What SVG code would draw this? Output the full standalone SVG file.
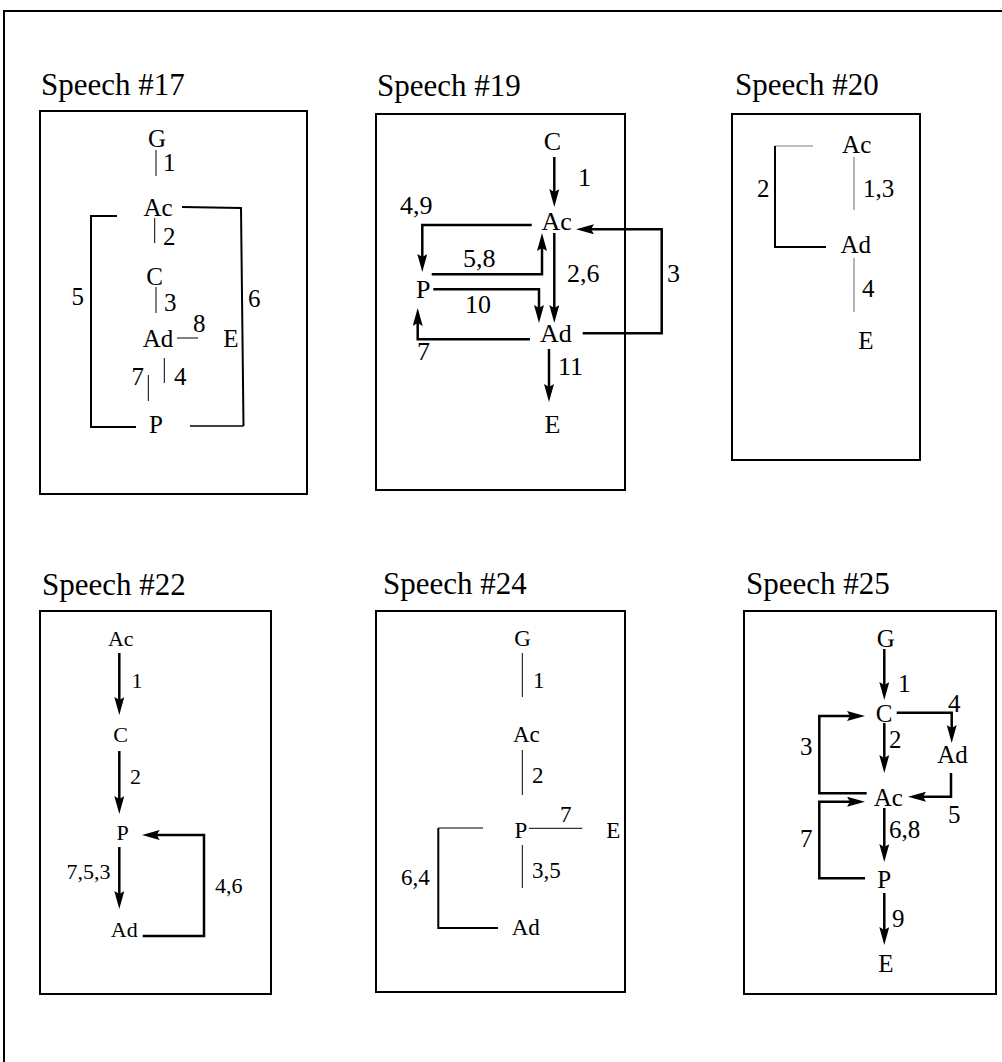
<svg xmlns="http://www.w3.org/2000/svg" width="1002" height="1062" viewBox="0 0 1002 1062">
<style>
text{font-family:"Liberation Serif","Times New Roman",serif;fill:#000}
.title{font-size:31px}
.box{fill:none;stroke:#000;stroke-width:2}
.thin{fill:none;stroke:#000;stroke-width:1}
.gray{fill:none;stroke:#808080;stroke-width:1.2}
.br{fill:none;stroke:#000;stroke-width:2}
.ar{fill:none;stroke:#000;stroke-width:2.5;marker-end:url(#ah)}
.n{text-anchor:middle}
</style>
<defs>
<marker id="ah" viewBox="0 0 18 10" refX="8" refY="5" markerWidth="18" markerHeight="10" markerUnits="userSpaceOnUse" orient="auto">
<path d="M0,0 L18,5 L0,10 L3,5 z" fill="#000"/>
</marker>
</defs>
<rect width="1002" height="1062" fill="#fff"/>
<path d="M4,1062 L4,11 L1002,11" fill="none" stroke="#000" stroke-width="2"/>

<!-- Panel 1 -->
<g id="speech17">
<rect class="box" x="40" y="111" width="267" height="383"/>
<text class="title" x="41" y="95">Speech #17</text>
<g font-size="25">
<g id="s17-G"><text class="n" x="157" y="147">G</text></g>
<g id="s17-Ac"><text class="n" x="158" y="216">Ac</text></g>
<g id="s17-C"><text class="n" x="154.5" y="285">C</text></g>
<g id="s17-Ad"><text class="n" x="158" y="347">Ad</text></g>
<g id="s17-E"><text class="n" x="231" y="347">E</text></g>
<g id="s17-P"><text class="n" x="156" y="433">P</text></g>
</g>
<g id="s17-connectors">
<line class="thin" x1="156" y1="150" x2="156" y2="176"/>
<line class="thin" x1="154.7" y1="218" x2="154.7" y2="243"/>
<line class="thin" x1="156" y1="287" x2="156" y2="313"/>
<line class="thin" x1="177" y1="338" x2="198" y2="338"/>
<line class="thin" x1="164.3" y1="358" x2="164.3" y2="383"/>
<line class="thin" x1="148.3" y1="375" x2="148.3" y2="401"/>
<path class="br" d="M117,216 L91,216 L91,427 L136,427"/>
<path class="br" d="M182,207 L241,208 L243.5,426"/>
<line x1="243.5" y1="426" x2="190" y2="426" stroke="#000" stroke-width="1.3"/>
</g>
<g font-size="25">
<text x="163" y="171">1</text>
<text x="163" y="245">2</text>
<text x="164" y="311">3</text>
<text x="193" y="332">8</text>
<text x="174" y="385">4</text>
<text x="131.5" y="385">7</text>
<text x="71.5" y="305">5</text>
<text x="248" y="307">6</text>
</g>
</g>

<!-- Panel 2 -->
<g id="speech19">
<rect class="box" x="376" y="114" width="249" height="376"/>
<text class="title" x="377" y="96">Speech #19</text>
<g font-size="26">
<g id="s19-C"><text class="n" x="552.5" y="150">C</text></g>
<g id="s19-Ac"><text class="n" x="556.7" y="230">Ac</text></g>
<g id="s19-P"><text class="n" x="423.3" y="298">P</text></g>
<g id="s19-Ad"><text class="n" x="555.8" y="342">Ad</text></g>
<g id="s19-E"><text class="n" x="552.5" y="433">E</text></g>
</g>
<g id="s19-connectors">
<path class="ar" d="M554.3,157 L554.3,197"/>
<path class="ar" d="M531.7,225 L422.3,225 L422.3,262"/>
<path class="ar" d="M431.7,274.3 L542,274.3 L542,243"/>
<path class="ar" d="M433.3,289.3 L539,289.3 L539,313"/>
<path class="ar" d="M554.3,233 L554.3,313"/>
<path class="ar" d="M582.7,333.3 L661.7,333.3 L661.7,229.3 L586,229.3"/>
<path class="ar" d="M530,339.3 L417.7,339.3 L417.7,318"/>
<path class="ar" d="M549,349 L549,392"/>
</g>
<g font-size="26">
<text x="578" y="186">1</text>
<text x="400" y="214">4,9</text>
<text x="463" y="267">5,8</text>
<text x="567" y="282">2,6</text>
<text x="667" y="282">3</text>
<text x="465" y="313">10</text>
<text x="417" y="360">7</text>
<text x="558" y="375">11</text>
</g>
</g>

<!-- Panel 3 -->
<g id="speech20">
<rect class="box" x="732" y="114" width="188" height="346"/>
<text class="title" x="735" y="95">Speech #20</text>
<g font-size="25">
<g id="s20-Ac"><text class="n" x="856.7" y="153">Ac</text></g>
<g id="s20-Ad"><text class="n" x="855.8" y="253">Ad</text></g>
<g id="s20-E"><text class="n" x="865.8" y="349">E</text></g>
</g>
<g id="s20-connectors">
<line class="gray" x1="775" y1="146" x2="813" y2="146"/>
<line class="gray" x1="854" y1="157" x2="854" y2="210"/>
<line class="gray" x1="854" y1="258" x2="854" y2="312"/>
<path class="br" d="M775,146 L775,247 L826,247"/>
</g>
<g font-size="25">
<text x="757" y="197">2</text>
<text x="863" y="197">1,3</text>
<text x="862" y="297">4</text>
</g>
</g>

<!-- Panel 4 -->
<g id="speech22">
<rect class="box" x="40" y="611" width="231" height="383"/>
<text class="title" x="42" y="595">Speech #22</text>
<g font-size="22">
<g id="s22-Ac"><text class="n" x="120.8" y="646">Ac</text></g>
<g id="s22-C"><text class="n" x="120.5" y="742">C</text></g>
<g id="s22-P"><text class="n" x="122.5" y="840">P</text></g>
<g id="s22-Ad"><text class="n" x="124.3" y="937">Ad</text></g>
</g>
<g id="s22-connectors">
<path class="ar" d="M119.3,653 L119.3,705"/>
<path class="ar" d="M119.3,751 L119.3,804"/>
<path class="ar" d="M119.3,847 L119.3,899"/>
<path class="ar" d="M142.7,936 L204,936 L204,835 L151.7,835"/>
</g>
<g font-size="22">
<text x="131.5" y="688">1</text>
<text x="130" y="784">2</text>
<text x="66.5" y="879">7,5,3</text>
<text x="215" y="893">4,6</text>
</g>
</g>

<!-- Panel 5 -->
<g id="speech24">
<rect class="box" x="376" y="611" width="249" height="381"/>
<text class="title" x="383" y="594">Speech #24</text>
<g font-size="23">
<g id="s24-G"><text class="n" x="522.5" y="646">G</text></g>
<g id="s24-Ac"><text class="n" x="526.3" y="742">Ac</text></g>
<g id="s24-P"><text class="n" x="520.8" y="838">P</text></g>
<g id="s24-E"><text class="n" x="613.3" y="838">E</text></g>
<g id="s24-Ad"><text class="n" x="525.8" y="935">Ad</text></g>
</g>
<g id="s24-connectors">
<line class="thin" x1="522.3" y1="653" x2="522.3" y2="697"/>
<line class="thin" x1="522.3" y1="750" x2="522.3" y2="795"/>
<line class="thin" x1="529" y1="828.3" x2="582.3" y2="828.3"/>
<line class="thin" x1="522.3" y1="845" x2="522.3" y2="888"/>
<line class="thin" x1="483" y1="828" x2="438.3" y2="828"/>
<path class="br" d="M438.3,828 L438.3,928 L498,928"/>
</g>
<g font-size="23">
<text x="533" y="688">1</text>
<text x="532" y="783">2</text>
<text x="560" y="822">7</text>
<text x="401" y="885">6,4</text>
<text x="532" y="878">3,5</text>
</g>
</g>

<!-- Panel 6 -->
<g id="speech25">
<rect class="box" x="744" y="611" width="252" height="383"/>
<text class="title" x="746" y="594">Speech #25</text>
<g font-size="25">
<g id="s25-G"><text class="n" x="885.8" y="647">G</text></g>
<g id="s25-C"><text class="n" x="884.2" y="722">C</text></g>
<g id="s25-Ad"><text class="n" x="952.5" y="763">Ad</text></g>
<g id="s25-Ac"><text class="n" x="888.3" y="806">Ac</text></g>
<g id="s25-P"><text class="n" x="884.2" y="888">P</text></g>
<g id="s25-E"><text class="n" x="885.8" y="972">E</text></g>
</g>
<g id="s25-connectors">
<path class="ar" d="M884.3,649 L884.3,690"/>
<path class="ar" d="M896.7,712.7 L951.7,712.7 L951.7,733"/>
<path class="ar" d="M951,773 L951,796.7 L918,796.7"/>
<path class="ar" d="M884.3,723 L884.3,763"/>
<path class="ar" d="M866.7,793.3 L819.3,793.3 L819.3,716 L855,716"/>
<path class="ar" d="M865,878.3 L819.3,878.3 L819.3,801.7 L855,801.7"/>
<path class="ar" d="M884.3,808 L884.3,852"/>
<path class="ar" d="M884.3,893 L884.3,935"/>
</g>
<g font-size="25">
<text x="898" y="692">1</text>
<text x="948" y="712">4</text>
<text x="889" y="748">2</text>
<text x="800" y="755">3</text>
<text x="948" y="823">5</text>
<text x="889" y="838">6,8</text>
<text x="800" y="847">7</text>
<text x="892" y="927">9</text>
</g>
</g>
</svg>
